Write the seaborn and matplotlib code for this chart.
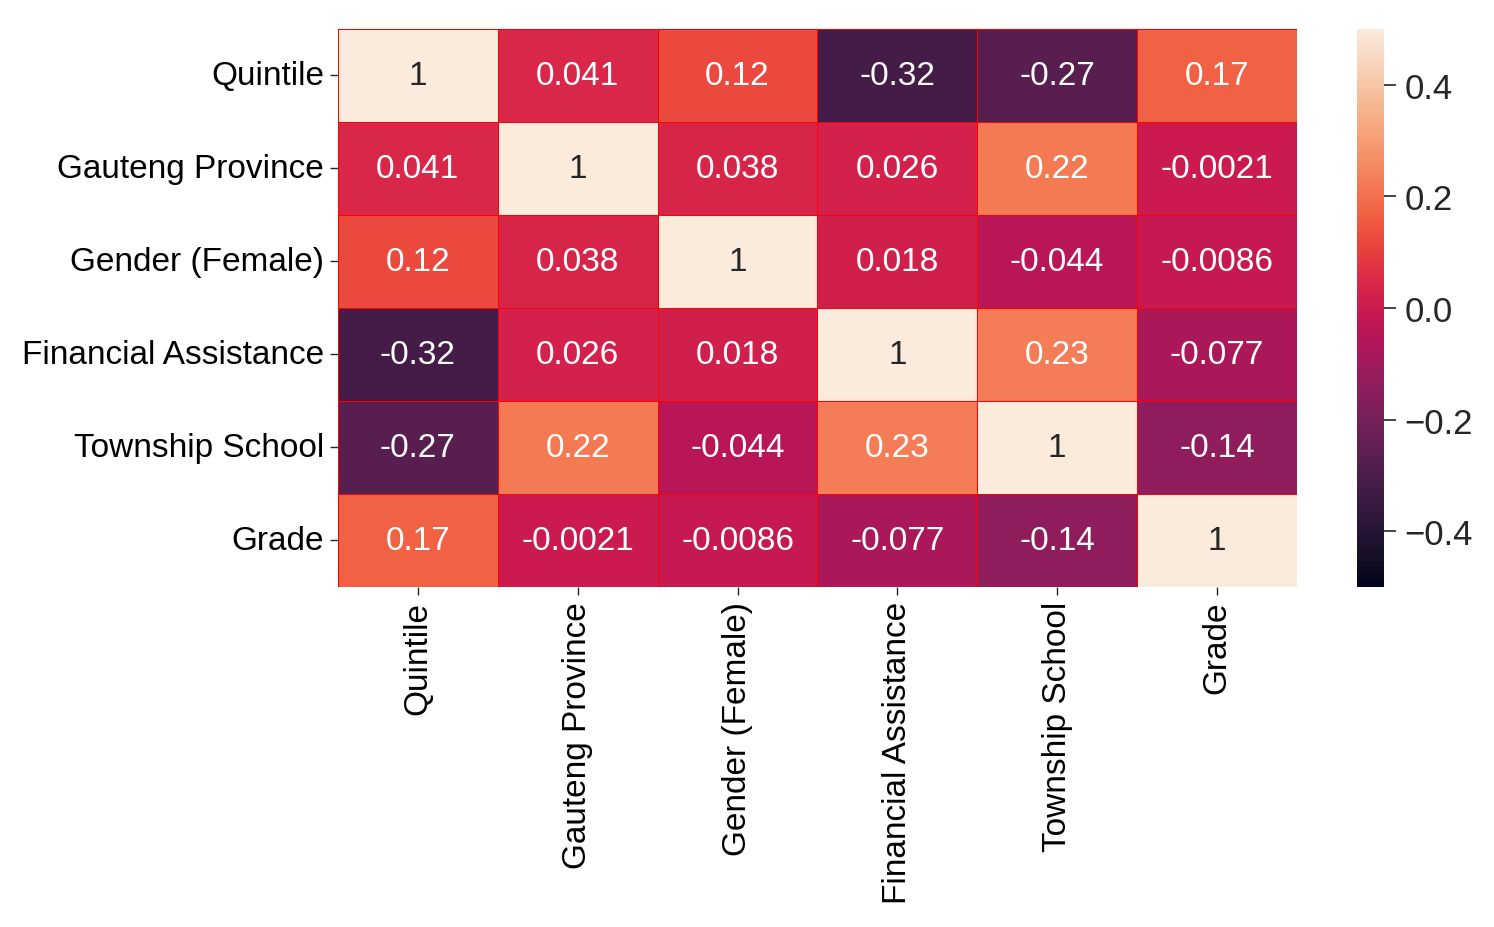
import numpy as np
import pandas as pd
import matplotlib
matplotlib.use("Agg")
import matplotlib.pyplot as plt
import seaborn as sns

# Variables in the correlation matrix
labels = ['Quintile', 'Gauteng Province', 'Gender (Female)',
          'Financial Assistance', 'Township School', 'Grade']

# Correlation values, row by row
quintile = [1, 0.041, 0.12, -0.32, -0.27, 0.17]
gauteng = [0.041, 1, 0.038, 0.026, 0.22, -0.0021]
gender = [0.12, 0.038, 1, 0.018, -0.044, -0.0086]
financial = [-0.32, 0.026, 0.018, 1, 0.23, -0.077]
township = [-0.27, 0.22, -0.044, 0.23, 1, -0.14]
grade = [0.17, -0.0021, -0.0086, -0.077, -0.14, 1]

corr = pd.DataFrame([quintile, gauteng, gender, financial, township, grade],
                    index=labels, columns=labels)

sns.set_theme(style='ticks')
plt.rcParams['font.family'] = ['Liberation Sans', 'DejaVu Sans']

fig = plt.figure(figsize=(7.47, 4.64), dpi=200)
ax = fig.add_axes([0.2262, 0.3664, 0.6419, 0.6013])
cax = fig.add_axes([0.9083, 0.3664, 0.0181, 0.6013])

sns.heatmap(corr, annot=True, vmin=-0.5, vmax=0.5, linewidths=0.3,
            linecolor='red', ax=ax, cbar_ax=cax, annot_kws={'size': 12})

ax.tick_params(axis='both', labelsize=12, length=2.8, width=0.5,
               pad=2.2, labelcolor='black')
ax.set_xticklabels(ax.get_xticklabels(), rotation=90)
ax.set_yticklabels(ax.get_yticklabels(), rotation=0)
cax.tick_params(labelsize=12.5, length=4.2, width=0.6, pad=3.2)

plt.savefig('out.png', dpi=200)
